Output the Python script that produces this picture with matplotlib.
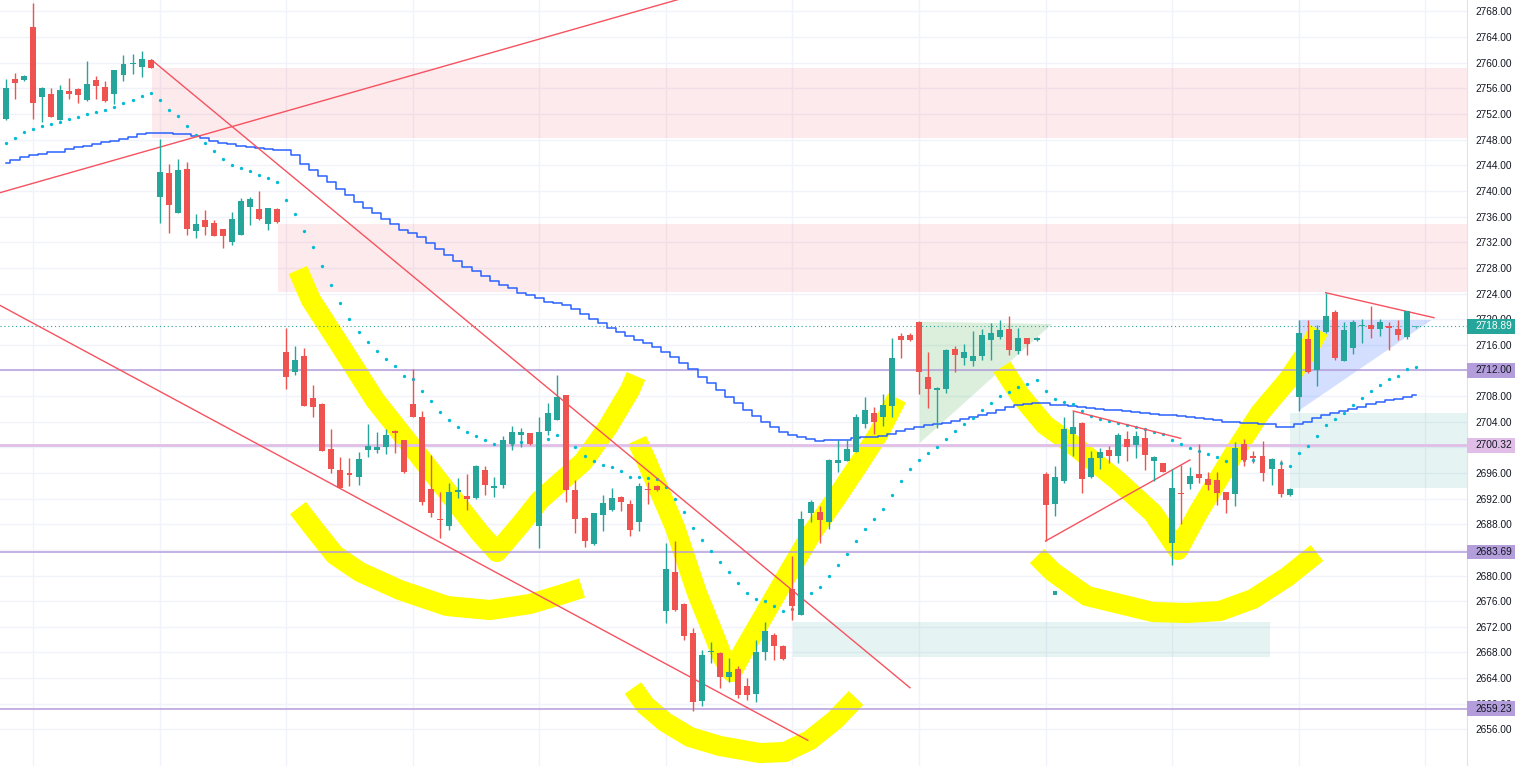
"""
Gold 1H chart with hand drawn pattern marks (TradingView style screenshot).
"""

import numpy as np
import matplotlib.pyplot as plt
from matplotlib.patches import Polygon, Rectangle

# --- Candles, one per bar, left to right ---
opens = [2751.2, 2757.5, 2757.3, 2765.6, 2754.6, 2755.1, 2751.1, 2755.6, 2755.9, 2754.2,
         2757.3, 2756.2, 2755.1, 2758.1, 2759.8, 2759.4, 2760.5, 2739.1, 2742.8, 2736.6,
         2743.4, 2733.7, 2735.4, 2735.0, 2734.0, 2732.1, 2733.1, 2737.5, 2737.2, 2734.9,
         2737.2, 2714.8, 2711.8, 2714.3, 2707.7, 2706.8, 2699.8, 2696.4, 2696.0, 2695.3,
         2699.6, 2699.6, 2700.0, 2702.6, 2701.1, 2706.8, 2704.8, 2693.5, 2688.8, 2687.7,
         2693.1, 2692.4, 2692.1, 2696.4, 2693.7, 2694.2, 2700.5, 2701.9, 2702.2, 2687.8,
         2702.6, 2704.2, 2708.1, 2693.4, 2689.0, 2684.9, 2689.5, 2690.3, 2692.2, 2691.2,
         2688.4, 2693.5, 2694.0, 2674.4, 2680.6, 2675.6, 2671.0, 2660.5, 2668.0, 2667.9,
         2664.2, 2665.5, 2662.8, 2661.6, 2668.1, 2670.7, 2669.0, 2677.9, 2673.9, 2689.7,
         2689.9, 2688.3, 2697.5, 2697.9, 2699.3, 2703.7, 2705.3, 2704.8, 2706.4, 2717.4,
         2717.6, 2719.6, 2710.9, 2709.0, 2709.1, 2715.3, 2714.0, 2713.4, 2714.3, 2716.8,
         2717.2, 2718.4, 2715.1, 2717.0, 2716.8, 2695.8, 2691.1, 2694.8, 2702.1, 2703.8,
         2695.3, 2698.3, 2699.6, 2698.6, 2701.3, 2700.4, 2701.4, 2697.8, 2697.5, 2685.1,
         2692.9, 2694.3, 2695.8, 2695.0, 2694.9, 2693.0, 2692.8, 2700.5, 2698.7, 2698.7,
         2696.7, 2696.7, 2692.5, 2707.9, 2716.9, 2712.0, 2718.0, 2721.1, 2713.5, 2715.5,
         2718.9, 2719.1, 2718.4, 2719.0, 2718.5, 2717.2, 2718.7]
highs = [2757.5, 2758.4, 2758.1, 2769.3, 2756.2, 2756.0, 2756.5, 2757.6, 2756.0, 2760.3,
         2758.0, 2757.2, 2758.9, 2761.2, 2761.4, 2761.8, 2760.6, 2748.1, 2744.2, 2745.0,
         2744.5, 2736.4, 2737.1, 2735.5, 2734.1, 2736.7, 2738.9, 2739.0, 2740.0, 2737.4,
         2737.3, 2718.6, 2715.8, 2715.5, 2709.8, 2706.9, 2702.8, 2698.5, 2698.3, 2699.3,
         2703.7, 2702.4, 2702.9, 2702.7, 2701.2, 2712.2, 2705.7, 2698.8, 2693.0, 2694.4,
         2695.2, 2695.9, 2697.2, 2697.1, 2695.3, 2701.7, 2703.3, 2703.0, 2702.3, 2704.8,
         2706.9, 2711.3, 2708.2, 2694.9, 2689.1, 2689.8, 2692.5, 2693.7, 2692.4, 2691.8,
         2694.4, 2694.6, 2694.1, 2685.1, 2685.4, 2675.7, 2671.8, 2668.4, 2669.7, 2668.0,
         2667.1, 2665.9, 2664.0, 2670.0, 2672.8, 2671.0, 2669.1, 2683.0, 2690.0, 2691.8,
         2690.9, 2698.2, 2701.1, 2701.3, 2705.2, 2707.8, 2706.3, 2708.3, 2717.0, 2717.8,
         2717.9, 2719.7, 2714.9, 2709.4, 2715.3, 2715.8, 2716.2, 2718.1, 2718.4, 2719.4,
         2719.8, 2720.5, 2718.6, 2717.1, 2717.2, 2696.2, 2697.1, 2704.8, 2705.7, 2704.0,
         2699.5, 2699.9, 2700.2, 2702.2, 2702.6, 2702.5, 2702.7, 2698.6, 2697.6, 2696.6,
         2697.3, 2696.9, 2700.6, 2696.1, 2696.2, 2693.1, 2700.9, 2701.3, 2699.5, 2701.0,
         2698.3, 2698.1, 2693.6, 2719.9, 2719.9, 2719.1, 2724.1, 2721.5, 2719.6, 2719.9,
         2720.0, 2722.1, 2720.0, 2719.6, 2719.9, 2721.3, 2719.0]
lows = [2751.0, 2754.4, 2757.2, 2751.2, 2750.7, 2751.5, 2751.1, 2754.3, 2753.7, 2754.0,
        2754.3, 2753.9, 2753.5, 2757.2, 2758.3, 2757.7, 2759.2, 2735.0, 2733.4, 2736.6,
        2733.1, 2732.7, 2733.1, 2733.0, 2731.1, 2731.6, 2733.1, 2734.7, 2735.5, 2733.9,
        2735.0, 2709.1, 2711.3, 2706.4, 2704.8, 2699.4, 2696.0, 2693.7, 2694.0, 2694.1,
        2698.5, 2699.1, 2698.9, 2699.1, 2696.0, 2704.7, 2691.0, 2689.1, 2685.8, 2687.1,
        2692.1, 2690.2, 2692.0, 2692.6, 2692.3, 2693.6, 2699.6, 2700.0, 2700.4, 2684.3,
        2701.9, 2704.2, 2691.4, 2686.6, 2684.4, 2684.8, 2687.0, 2690.0, 2690.1, 2686.2,
        2687.0, 2691.2, 2693.2, 2672.6, 2674.5, 2669.9, 2658.8, 2659.6, 2666.3, 2662.4,
        2663.4, 2660.9, 2660.6, 2660.3, 2666.9, 2666.8, 2666.9, 2673.1, 2673.9, 2688.3,
        2685.1, 2687.2, 2696.2, 2697.9, 2699.2, 2703.0, 2702.1, 2703.3, 2704.7, 2713.9,
        2716.6, 2708.3, 2706.1, 2703.0, 2708.5, 2711.8, 2712.9, 2712.7, 2713.6, 2713.7,
        2716.9, 2714.4, 2714.5, 2714.4, 2716.6, 2685.4, 2689.3, 2694.5, 2698.6, 2692.9,
        2695.2, 2696.7, 2697.6, 2697.5, 2697.8, 2698.3, 2696.4, 2694.8, 2696.1, 2681.7,
        2688.0, 2693.5, 2694.4, 2693.4, 2691.0, 2689.7, 2690.9, 2697.1, 2697.5, 2694.8,
        2694.1, 2692.2, 2692.4, 2705.6, 2711.6, 2709.5, 2717.9, 2713.6, 2713.5, 2714.6,
        2716.3, 2717.0, 2717.4, 2715.2, 2716.8, 2716.9, 2718.6]
closes = [2756.0, 2756.8, 2758.0, 2753.7, 2756.0, 2751.6, 2755.7, 2755.2, 2755.0, 2756.7,
          2756.3, 2754.0, 2758.8, 2759.8, 2759.9, 2760.6, 2759.2, 2742.9, 2737.8, 2743.3,
          2734.0, 2734.9, 2734.4, 2733.0, 2733.0, 2735.7, 2738.4, 2738.8, 2735.7, 2737.3,
          2735.1, 2711.0, 2713.7, 2706.5, 2706.3, 2699.5, 2696.6, 2693.7, 2695.7, 2698.2,
          2700.2, 2700.0, 2702.0, 2702.2, 2696.1, 2704.8, 2691.4, 2689.8, 2688.6, 2693.0,
          2693.3, 2692.0, 2697.1, 2694.1, 2694.0, 2701.2, 2702.4, 2702.4, 2700.5, 2702.4,
          2705.3, 2707.9, 2693.4, 2688.9, 2685.4, 2689.7, 2691.3, 2692.1, 2691.5, 2687.1,
          2694.0, 2693.3, 2693.3, 2681.0, 2674.6, 2670.6, 2660.2, 2667.6, 2668.2, 2664.1,
          2664.9, 2661.3, 2661.4, 2668.0, 2671.4, 2669.0, 2667.0, 2675.2, 2688.8, 2691.4,
          2688.7, 2698.1, 2698.1, 2699.8, 2704.7, 2705.8, 2703.9, 2706.6, 2713.9, 2716.8,
          2716.7, 2711.8, 2709.1, 2709.2, 2715.2, 2714.4, 2714.8, 2714.3, 2717.6, 2717.9,
          2718.3, 2715.2, 2717.0, 2716.1, 2716.9, 2691.0, 2695.3, 2702.8, 2703.1, 2695.0,
          2698.3, 2699.3, 2698.7, 2701.9, 2700.1, 2701.8, 2698.8, 2698.5, 2696.2, 2693.6,
          2692.7, 2695.6, 2695.2, 2694.1, 2692.9, 2691.8, 2699.9, 2698.0, 2698.3, 2696.0,
          2698.2, 2692.7, 2693.5, 2717.8, 2711.7, 2718.3, 2720.5, 2713.9, 2718.3, 2719.5,
          2719.1, 2718.4, 2719.5, 2718.6, 2717.5, 2721.2, 2718.9]

# Moving average (blue stepped line)
ma_values = [2744.36, 2744.83, 2745.30, 2745.61, 2745.84, 2746.00, 2746.12, 2746.47, 2746.86, 2747.09,
             2747.32, 2747.64, 2747.87, 2748.10, 2748.49, 2748.88, 2749.09, 2749.09, 2749.04, 2748.96,
             2748.81, 2748.57, 2748.26, 2747.87, 2747.48, 2747.32, 2747.09, 2746.86, 2746.70, 2746.54,
             2746.39, 2746.39, 2745.61, 2744.20, 2743.27, 2742.33, 2741.35, 2740.30, 2739.37, 2738.32,
             2737.29, 2736.51, 2735.62, 2734.84, 2733.91, 2733.39, 2732.77, 2731.83, 2730.94, 2730.01,
             2729.12, 2728.18, 2727.51, 2726.78, 2726.00, 2725.33, 2724.81, 2724.13, 2723.77, 2723.25,
             2722.72, 2722.47, 2722.21, 2721.58, 2720.76, 2719.98, 2719.35, 2718.67, 2717.95, 2717.37,
             2716.75, 2716.23, 2715.61, 2714.92, 2714.05, 2713.11, 2712.18, 2711.02, 2709.99, 2708.95,
             2707.90, 2706.87, 2705.83, 2704.89, 2704.00, 2703.22, 2702.35, 2701.88, 2701.57, 2701.30,
             2701.04, 2701.07, 2701.07, 2701.07, 2701.46, 2701.61, 2701.69, 2701.77, 2702.08, 2702.55,
             2702.86, 2703.17, 2703.49, 2703.64, 2703.80, 2704.11, 2704.42, 2704.73, 2705.05, 2705.40,
             2705.83, 2706.22, 2706.61, 2706.84, 2706.96, 2706.92, 2706.68, 2706.61, 2706.45, 2706.29,
             2706.14, 2706.06, 2705.90, 2705.75, 2705.67, 2705.51, 2705.36, 2705.20, 2705.12, 2704.97,
             2704.89, 2704.73, 2704.58, 2704.42, 2704.27, 2704.03, 2703.95, 2703.87, 2703.80, 2703.72,
             2703.64, 2703.25, 2703.13, 2703.64, 2704.03, 2704.58, 2704.97, 2705.36, 2705.67, 2705.98,
             2706.37, 2706.76, 2707.00, 2707.31, 2707.54, 2707.85, 2708.17]

# Parabolic SAR dots
sar_values = [2747.43, 2748.31, 2749.15, 2749.62, 2750.18, 2750.40, 2750.76, 2751.22, 2751.54, 2752.00,
              2752.36, 2752.58, 2753.10, 2753.67, 2754.24, 2754.86, 2755.28, 2754.14, 2752.63, 2751.74,
              2750.18, 2748.78, 2747.43, 2746.28, 2744.98, 2744.10, 2743.53, 2743.16, 2742.49, 2741.97,
              2741.35, 2738.59, 2736.45, 2733.70, 2731.21, 2728.24, 2725.37, 2722.47, 2720.02, 2718.04,
              2716.48, 2714.98, 2713.78, 2712.74, 2711.18, 2710.66, 2708.84, 2707.18, 2705.47, 2704.31,
              2703.22, 2702.35, 2701.82, 2701.19, 2700.52, 2700.05, 2700.52, 2700.79, 2700.79, 2700.99,
              2701.25, 2701.97, 2701.15, 2700.01, 2698.65, 2697.92, 2697.25, 2696.89, 2696.36, 2695.42,
              2695.33, 2695.17, 2695.01, 2693.77, 2691.94, 2689.96, 2687.37, 2685.54, 2683.88, 2682.16,
              2680.50, 2678.79, 2677.23, 2676.29, 2675.98, 2675.29, 2674.52, 2674.73, 2675.83, 2677.23,
              2678.26, 2679.93, 2681.64, 2683.36, 2685.44, 2687.21, 2688.77, 2690.33, 2692.52, 2694.70,
              2696.62, 2698.07, 2699.12, 2700.10, 2701.30, 2702.50, 2703.64, 2704.62, 2705.83, 2706.92,
              2707.96, 2708.63, 2709.37, 2709.88, 2710.51, 2708.84, 2707.54, 2707.12, 2706.76, 2705.72,
              2704.94, 2704.42, 2704.16, 2703.84, 2703.49, 2703.22, 2702.86, 2702.44, 2702.03, 2701.15,
              2700.52, 2699.85, 2699.48, 2698.96, 2698.45, 2697.92, 2697.95, 2698.03, 2698.03, 2697.92,
              2697.79, 2697.51, 2697.09, 2699.07, 2700.21, 2701.77, 2703.44, 2704.42, 2705.40, 2706.65,
              2707.70, 2708.79, 2709.68, 2710.62, 2711.18, 2712.18, 2712.58]
stray_dot = (116, 2677.32)

# Horizontal price levels and last price
level_prices = [2712.00, 2700.32, 2683.69, 2659.23]
level_colors = ['#b39ddb', '#e1bee7', '#b39ddb', '#b39ddb']
last_price = 2718.89

# Zones: (first bar, last bar, low, high); None = runs to the price scale
supply_zones = [(16.15, None, 2748.26, 2759.18), (30.1, None, 2724.2, 2734.85)]
demand_zones = [(87.1, 139.8, 2667.29, 2672.75), (142.0, None, 2693.6, 2705.4)]

# Triangles (bar, price)
green_triangle = [(101.1, 2719.6), (115.7, 2719.24), (101.1, 2700.7)]
blue_triangle = [(143.0, 2719.87), (157.7, 2719.87), (143.0, 2705.72)]

# Red trend lines ((bar, price), (bar, price))
trend_lines = [((-0.66, 2739.73), (75.3, 2770.24)),
               ((16.12, 2760.43), (100.0, 2662.5)),
               ((-0.66, 2722.15), (88.7, 2654.3)),
               ((115.0, 2685.39), (130.97, 2698.03)),
               ((118.06, 2705.67), (129.94, 2701.41)),
               ((145.98, 2724.13), (157.96, 2720.23))]

# Yellow highlighter strokes (bar, price)
yellow_strokes = [
    [(32.30, 2727.67), (33.74, 2722.99), (36.95, 2715.97), (40.82, 2707.39), (46.68, 2696.93),
     (52.43, 2686.64), (54.31, 2683.67), (56.86, 2687.88), (59.07, 2691.78), (63.83, 2697.71),
     (66.59, 2703.17), (69.03, 2708.95), (69.69, 2711.13)],
    [(32.30, 2690.54), (34.18, 2687.10), (36.39, 2683.20), (39.16, 2680.55), (43.58, 2677.74),
     (48.78, 2675.25), (53.54, 2674.62), (57.96, 2675.56), (61.28, 2676.96), (63.72, 2678.06)],
    [(69.80, 2701.15), (70.91, 2697.71), (74.00, 2687.57), (76.44, 2677.28), (78.10, 2671.50),
     (79.31, 2667.14), (80.31, 2664.95), (81.75, 2668.70), (83.74, 2673.53), (86.73, 2680.86),
     (89.16, 2686.64), (91.70, 2691.78), (94.14, 2696.93), (96.57, 2702.24), (98.56, 2707.70)],
    [(69.36, 2662.46), (70.69, 2659.80), (72.90, 2657.15), (75.66, 2654.81), (78.98, 2653.41),
     (83.41, 2652.31), (86.17, 2652.47), (88.94, 2654.34), (91.70, 2657.46), (94.03, 2660.90)],
    [(110.18, 2712.53), (112.17, 2708.17), (114.93, 2703.49), (118.36, 2700.05), (122.90, 2694.91),
     (126.88, 2689.76), (129.65, 2683.98), (131.86, 2689.76), (134.07, 2694.91), (136.28, 2700.05),
     (138.72, 2705.36), (141.81, 2710.51), (143.69, 2714.41), (145.24, 2718.31)],
    [(114.05, 2683.05), (115.82, 2680.55), (119.58, 2676.81), (123.23, 2675.56), (126.88, 2674.31),
     (130.64, 2674.16), (134.29, 2674.47), (137.94, 2676.34), (141.70, 2679.77), (145.02, 2683.52)],
]

# Price scale ticks (2700.00 sits fully under the 2700.32 tag in the screenshot)
scale_ticks = np.arange(2656, 2769, 4)

UP = '#26a69a'
DOWN = '#ef5350'

fig = plt.figure(figsize=(15.19, 7.66), dpi=100)
ax = fig.add_axes([0, 0, 1467 / 1519, 1])
ax.set_facecolor('white')
ax.set_xlim(-0.66, 161.62)
ax.set_ylim(2650.29, 2769.79)

x = np.arange(len(opens))
x_end = 170

# --- Zones and triangles ---
for start, stop, lo, hi in supply_zones:
    ax.fill_between([start, stop if stop else x_end], lo, hi, color='#f23645', alpha=0.1, lw=0, zorder=1)
for start, stop, lo, hi in demand_zones:
    ax.fill_between([start, stop if stop else x_end], lo, hi, color='#089981', alpha=0.1, lw=0, zorder=1)
ax.add_patch(Polygon(green_triangle, closed=True, color='#4caf50', alpha=0.2, lw=0, zorder=1))
ax.add_patch(Polygon(blue_triangle, closed=True, color='#2962ff', alpha=0.2, lw=0, zorder=1))

# --- Highlighter ---
for stroke in yellow_strokes:
    sx, sy = zip(*stroke)
    ax.plot(sx, sy, color='#ffff00', lw=14.5, solid_capstyle='butt',
            solid_joinstyle='round', zorder=2)

# --- Levels ---
for price, col in zip(level_prices, level_colors):
    ax.axhline(price, color=col, lw=2 if price == 2700.32 else 1.1, zorder=3)
ax.axhline(last_price, color=UP, lw=0.8, ls=(0, (1, 2.5)), zorder=3)

# --- Indicators ---
ax.plot(x, ma_values, color='#2962ff', lw=1.1, drawstyle='steps-mid', zorder=3)
ax.plot(x, sar_values, 'o', color='#00bcd4', ms=2.4, mew=0, zorder=3)
ax.plot(*stray_dot, 's', color='#26a69a', ms=2.4, mew=0, zorder=3)

for (x1, y1), (x2, y2) in trend_lines:
    ax.plot([x1, x2], [y1, y2], color='#f7525f', lw=1, zorder=3)

# --- Candles ---
o = np.array(opens)
c = np.array(closes)
colors = [UP if cc >= oo else DOWN for oo, cc in zip(o, c)]
colors[-1] = '#4db6ac'
ax.vlines(x, lows, highs, colors=colors, lw=1, zorder=4)
body = np.maximum(np.abs(c - o), 0.2)
ax.bar(x, body, bottom=np.minimum(o, c), width=0.66, color=colors, lw=0, zorder=4)

# --- Grid and price scale ---
ax.set_xticks(np.arange(3, 160, 14))
ax.set_yticks(scale_ticks)
ax.set_yticklabels(['' if v == 2700 else f'{v:.2f}' for v in scale_ticks])
ax.grid(True, color='#f0f3fa', lw=1, zorder=0)
ax.set_axisbelow(True)
ax.yaxis.tick_right()
ax.tick_params(axis='x', length=0, labelbottom=False)
ax.tick_params(axis='y', length=0, pad=5.8, labelsize=7.3, labelcolor='#131722')
for lab in ax.get_yticklabels():
    lab.set_family('Liberation Sans')
for side in ['top', 'left', 'bottom']:
    ax.spines[side].set_visible(False)
ax.spines['right'].set_color('#e0e3eb')

# Price tags on the scale
tr = ax.get_yaxis_transform()
box_w = 48 / 1467
box_h = 2.3
tags = [(last_price, UP, 'white')] + [(p, col, '#131722') for p, col in zip(level_prices, level_colors)]
for price, bg, fg in tags:
    ax.add_patch(Rectangle((1.0, price - box_h / 2), box_w, box_h, transform=tr,
                           color=bg, lw=0, clip_on=False, zorder=10))
    ax.text(1.0 + 8 / 1467, price, f'{price:.2f}', transform=tr, ha='left', va='center',
            fontsize=7.3, family='Liberation Sans', color=fg, clip_on=False, zorder=11)

plt.savefig('out.png', dpi=100, facecolor='white')
plt.close()
